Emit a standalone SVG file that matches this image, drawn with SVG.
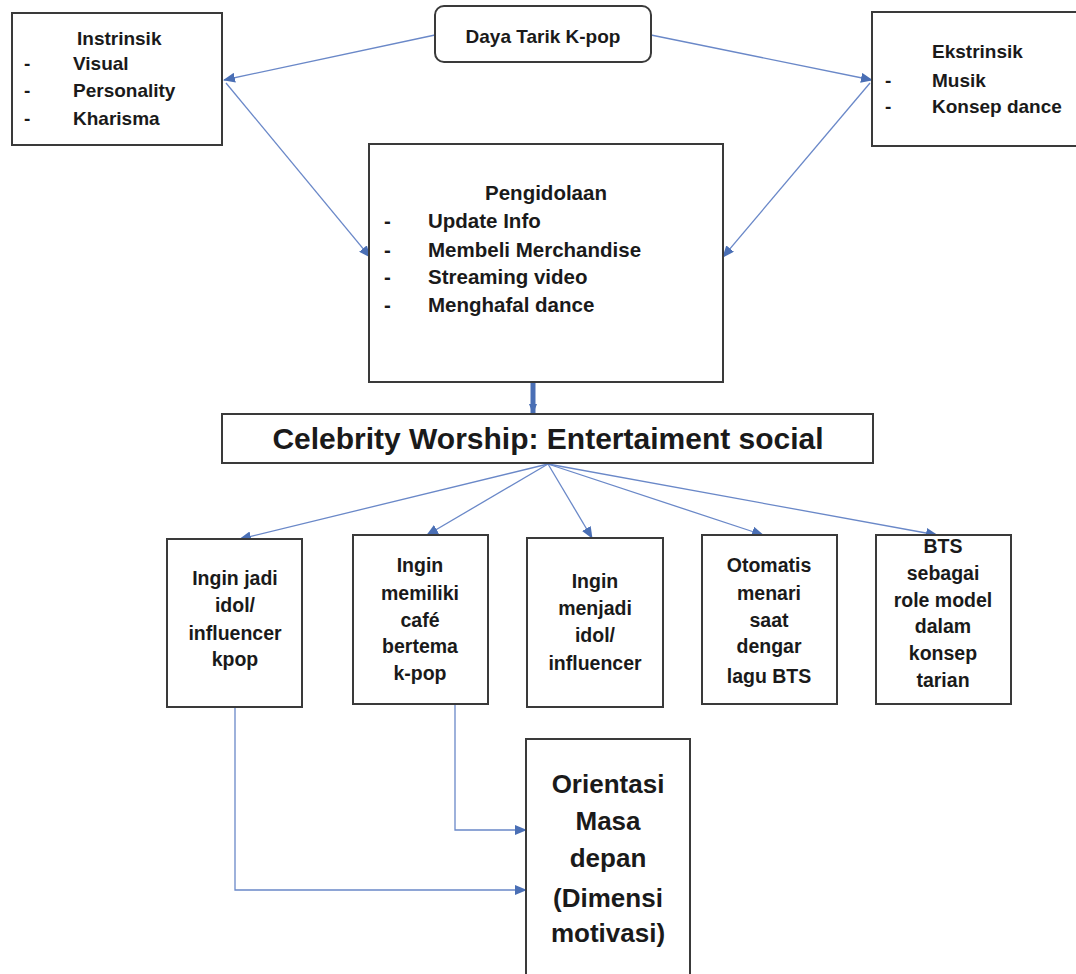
<svg xmlns="http://www.w3.org/2000/svg" width="1076" height="974" viewBox="0 0 1076 974">
<style>
.box{fill:#fff;stroke:#3a3a3a;stroke-width:2}
.t{font-family:"Liberation Sans",Arial,sans-serif;font-weight:bold;fill:#1a1a1a}
.c{text-anchor:middle}
.s{font-size:19px}
.m{font-size:20.5px}
.b{font-size:19.5px}
.conn{fill:none;stroke:#6a88c8;stroke-width:1.3}
.thick{fill:none;stroke:#4a6fb5;stroke-width:5}
</style>
<defs>
<marker id="ah" markerUnits="userSpaceOnUse" markerWidth="12" markerHeight="10" refX="11" refY="5" orient="auto">
<path d="M0,0 L12,5 L0,10 z" fill="#4a6fb5"/>
</marker>
<marker id="ahs" markerUnits="userSpaceOnUse" markerWidth="10" markerHeight="10" refX="9" refY="5" orient="auto">
<path d="M0,1 L10,5 L0,9 z" fill="#4a6fb5"/>
</marker>
</defs>
<rect width="1076" height="974" fill="#fff"/>

<g id="connectors">
<line class="conn" x1="435" y1="35" x2="224" y2="80" marker-end="url(#ah)"/>
<line class="conn" x1="651" y1="35" x2="872" y2="80" marker-end="url(#ah)"/>
<line class="conn" x1="226" y1="83" x2="370" y2="257" marker-end="url(#ah)"/>
<line class="conn" x1="870" y1="83" x2="723" y2="257" marker-end="url(#ah)"/>
<line class="thick" x1="533" y1="382" x2="533" y2="413" marker-end="url(#ahs)"/>
<line class="conn" x1="548" y1="464" x2="240" y2="539" marker-end="url(#ah)"/>
<line class="conn" x1="548" y1="464" x2="427" y2="535" marker-end="url(#ah)"/>
<line class="conn" x1="548" y1="464" x2="592" y2="538" marker-end="url(#ah)"/>
<line class="conn" x1="548" y1="464" x2="763" y2="535" marker-end="url(#ah)"/>
<line class="conn" x1="548" y1="464" x2="937" y2="535" marker-end="url(#ah)"/>
<polyline class="conn" points="235,707 235,890 526,890" marker-end="url(#ah)"/>
<polyline class="conn" points="455,704 455,830 526,830" marker-end="url(#ah)"/>
</g>

<g id="daya-tarik">
<rect class="box" x="435" y="6" width="216" height="56" rx="9"/>
<text class="t c s" x="543" y="43">Daya Tarik K-pop</text>
</g>

<g id="instrinsik">
<rect class="box" x="12" y="13" width="210" height="132"/>
<text class="t s" x="77" y="45">Instrinsik</text>
<text class="t s" x="24" y="70">-</text><text class="t s" x="73" y="70">Visual</text>
<text class="t s" x="24" y="97">-</text><text class="t s" x="73" y="97">Personality</text>
<text class="t s" x="24" y="125">-</text><text class="t s" x="73" y="125">Kharisma</text>
</g>

<g id="ekstrinsik">
<rect class="box" x="872" y="12" width="210" height="134"/>
<text class="t s" x="932" y="58">Ekstrinsik</text>
<text class="t s" x="885" y="87">-</text><text class="t s" x="932" y="87">Musik</text>
<text class="t s" x="885" y="113">-</text><text class="t s" x="932" y="113">Konsep dance</text>
</g>

<g id="pengidolaan">
<rect class="box" x="369" y="144" width="354" height="238"/>
<text class="t c m" x="546" y="200">Pengidolaan</text>
<text class="t m" x="384" y="228">-</text><text class="t m" x="428" y="228">Update Info</text>
<text class="t m" x="384" y="257">-</text><text class="t m" x="428" y="257">Membeli Merchandise</text>
<text class="t m" x="384" y="284">-</text><text class="t m" x="428" y="284">Streaming video</text>
<text class="t m" x="384" y="312">-</text><text class="t m" x="428" y="312">Menghafal dance</text>
</g>

<g id="celebrity-worship">
<rect class="box" x="222" y="414" width="651" height="49"/>
<text class="t c" x="548" y="449" font-size="30">Celebrity Worship: Entertaiment social</text>
</g>

<g id="box-idol-kpop">
<rect class="box" x="167" y="539" width="135" height="168"/>
<text class="t c b" x="235"><tspan x="235" y="585">Ingin jadi</tspan><tspan x="235" y="612">idol/</tspan><tspan x="235" y="640">influencer</tspan><tspan x="235" y="666">kpop</tspan></text>
</g>

<g id="box-cafe">
<rect class="box" x="353" y="535" width="135" height="169"/>
<text class="t c b" x="420"><tspan x="420" y="572">Ingin</tspan><tspan x="420" y="600">memiliki</tspan><tspan x="420" y="627">café</tspan><tspan x="420" y="653">bertema</tspan><tspan x="420" y="680">k-pop</tspan></text>
</g>

<g id="box-menjadi-idol">
<rect class="box" x="527" y="538" width="136" height="169"/>
<text class="t c b" x="595"><tspan x="595" y="588">Ingin</tspan><tspan x="595" y="615">menjadi</tspan><tspan x="595" y="642">idol/</tspan><tspan x="595" y="670">influencer</tspan></text>
</g>

<g id="box-otomatis">
<rect class="box" x="702" y="535" width="135" height="169"/>
<text class="t c b" x="769"><tspan x="769" y="572">Otomatis</tspan><tspan x="769" y="600">menari</tspan><tspan x="769" y="627">saat</tspan><tspan x="769" y="653">dengar</tspan><tspan x="769" y="683">lagu BTS</tspan></text>
</g>

<g id="box-bts">
<rect class="box" x="876" y="535" width="135" height="169"/>
<text class="t c b" x="943"><tspan x="943" y="553">BTS</tspan><tspan x="943" y="580">sebagai</tspan><tspan x="943" y="607">role model</tspan><tspan x="943" y="633">dalam</tspan><tspan x="943" y="660">konsep</tspan><tspan x="943" y="687">tarian</tspan></text>
</g>

<g id="orientasi">
<rect class="box" x="526" y="739" width="164" height="245"/>
<text class="t c" x="608" font-size="26"><tspan x="608" y="793">Orientasi</tspan><tspan x="608" y="830">Masa</tspan><tspan x="608" y="867">depan</tspan><tspan x="608" y="907">(Dimensi</tspan><tspan x="608" y="942">motivasi)</tspan></text>
</g>
</svg>
